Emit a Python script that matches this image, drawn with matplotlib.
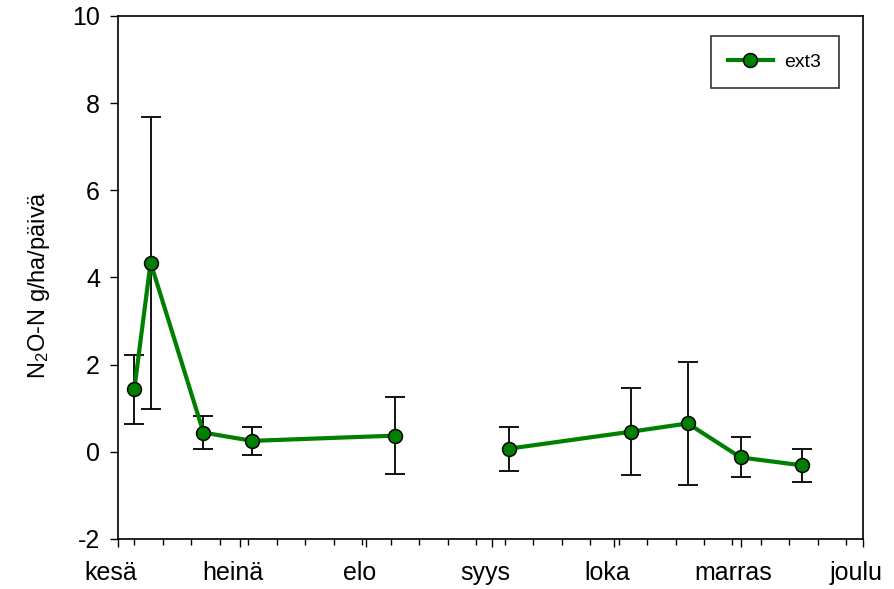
import numpy as np
import matplotlib
matplotlib.use('Agg')
import matplotlib.pyplot as plt
import matplotlib.transforms as mtransforms

plt.rcParams['font.family'] = ['Liberation Sans', 'DejaVu Sans']
plt.rcParams['mathtext.fontset'] = 'custom'
plt.rcParams['mathtext.rm'] = 'Liberation Sans'
plt.rcParams['mathtext.it'] = 'Liberation Sans:italic'
plt.rcParams['mathtext.bf'] = 'Liberation Sans:bold'
plt.rcParams['axes.unicode_minus'] = False

# Measurement days (days since 1 June) and N2O-N flux with error
days = [4, 8, 21, 33, 68, 96, 126, 140, 153, 168]
flux = [1.43, 4.34, 0.44, 0.25, 0.37, 0.07, 0.46, 0.65, -0.13, -0.31]
err = [0.80, 3.35, 0.38, 0.32, 0.89, 0.50, 1.00, 1.42, 0.46, 0.38]
# the line is broken between these two groups
groups = [(0, 5), (5, 10)]

# Month ticks
month_days = [0, 30, 61, 92, 122, 153, 183]
month_labels = ['kesä', 'heinä', 'elo', 'syys', 'loka', 'marras', 'joulu']
week_days = list(range(4, 183, 7))

fig = plt.figure(figsize=(8.94, 5.89), dpi=100)
ax = fig.add_axes([0.132, 0.085, 0.833, 0.888])

green = '#008000'
for i, (a, b) in enumerate(groups):
    ax.errorbar(days[a:b], flux[a:b], yerr=err[a:b], fmt='none', ecolor='black',
                elinewidth=1.3, capsize=7, capthick=1.3, zorder=2)
    ax.plot(days[a:b], flux[a:b], color=green, linewidth=3, marker='o', markersize=10,
            markerfacecolor=green, markeredgecolor='black', markeredgewidth=1.1,
            zorder=3, label='ext3' if i == 0 else None)

ax.set_xlim(0, 183)
ax.set_ylim(-2, 10)
ax.set_xticks(month_days)
ax.set_xticklabels(month_labels)
ax.set_xticks(week_days, minor=True)
ax.set_yticks([-2, 0, 2, 4, 6, 8, 10])

ax.tick_params(axis='x', which='major', direction='out', length=6, width=1,
               labelsize=18, pad=10)
ax.tick_params(axis='x', which='minor', direction='out', length=4, width=1)
ax.tick_params(axis='y', which='major', direction='out', length=6, width=1,
               labelsize=18, pad=7)
for s in ax.spines.values():
    s.set_linewidth(1.2)

# month labels sit a little left of their ticks
shift = mtransforms.ScaledTranslation(-7 / 100, 0, fig.dpi_scale_trans)
for lab in ax.get_xticklabels():
    lab.set_transform(lab.get_transform() + shift)

ax.set_ylabel('N$_2$O-N g/ha/päivä', fontsize=17)
ax.yaxis.set_label_coords(-0.089, 0.485)

leg = ax.legend(loc='upper right', bbox_to_anchor=(0.968, 0.962), fontsize=14,
                frameon=True, fancybox=False, edgecolor='black', handlelength=2.3,
                borderpad=0.9, handletextpad=0.6, borderaxespad=0)
leg.get_frame().set_linewidth(1.2)

plt.savefig('out.png', dpi=100)
